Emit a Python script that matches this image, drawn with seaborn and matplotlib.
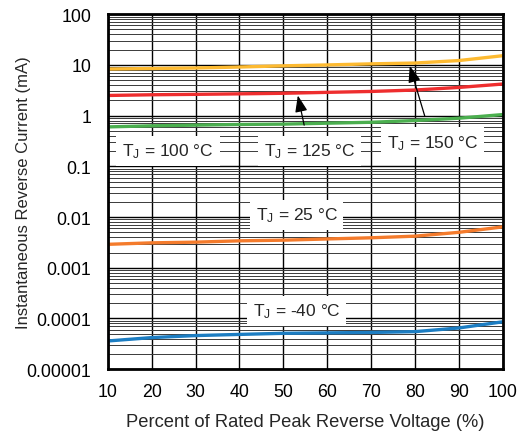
import numpy as np
import pandas as pd
import matplotlib
matplotlib.use("Agg")
import matplotlib.pyplot as plt
import seaborn as sns
from matplotlib.ticker import LogLocator, FixedLocator, FixedFormatter

# ---- data ----
voltage_pct = [10, 20, 30, 40, 50, 60, 70, 80, 90, 100]
i_150 = [8.3, 8.5, 8.7, 9.1, 9.6, 10.0, 10.5, 10.9, 12.2, 15.2]
i_125 = [2.5, 2.58, 2.63, 2.69, 2.76, 2.88, 3.0, 3.2, 3.6, 4.2]
i_100 = [0.60, 0.63, 0.65, 0.67, 0.68, 0.71, 0.74, 0.80, 0.89, 1.05]
i_25 = [0.0029, 0.0031, 0.0032, 0.0034, 0.0035, 0.0037, 0.0039, 0.0042, 0.0050, 0.0064]
i_m40 = [3.6e-5, 4.2e-5, 4.6e-5, 4.85e-5, 5.1e-5, 5.2e-5, 5.3e-5, 5.5e-5, 6.5e-5, 8.6e-5]
series_names = ["150", "125", "100", "25", "-40"]
y_ticks = [1e-5, 1e-4, 1e-3, 1e-2, 1e-1, 1, 10, 100]
y_tick_labels = ["0.00001", "0.0001", "0.001", "0.01", "0.1", "1", "10", "100"]
x_ticks = [10, 20, 30, 40, 50, 60, 70, 80, 90, 100]

colors = {"150": "#FDBA31", "125": "#EE2D2E", "100": "#4BAF4F",
          "25": "#F47B2C", "-40": "#1C7DC2"}

frames = []
for name, vals in zip(series_names, [i_150, i_125, i_100, i_25, i_m40]):
    frames.append(pd.DataFrame({"V": voltage_pct, "I": vals, "T": name}))
df = pd.concat(frames, ignore_index=True)

sns.set_style("white")
plt.rcParams["font.family"] = ["Liberation Sans", "DejaVu Sans"]
plt.rcParams["mathtext.fontset"] = "custom"
plt.rcParams["mathtext.rm"] = "Liberation Sans"
plt.rcParams["mathtext.it"] = "Liberation Sans"

fig = plt.figure(figsize=(5.21, 4.35), dpi=100)
ax = fig.add_axes([0.207, 0.149, 0.758, 0.816])

ax.set_yscale("log")
ax.set_xlim(10, 100)
ax.set_ylim(1e-5, 100)

# grid
ax.yaxis.set_major_locator(FixedLocator(y_ticks))
ax.yaxis.set_major_formatter(FixedFormatter(y_tick_labels))
ax.yaxis.set_minor_locator(LogLocator(base=10, subs=np.arange(2, 10), numticks=50))
ax.xaxis.set_major_locator(FixedLocator(x_ticks))
ax.grid(True, which="major", axis="both", color="black", linewidth=1.0)
ax.grid(True, which="minor", axis="y", color="#3a3a3a", linewidth=0.7)
ax.set_axisbelow(True)

sns.lineplot(data=df, x="V", y="I", hue="T", palette=colors, linewidth=2.4,
             legend=False, ax=ax, zorder=3)

for s in ax.spines.values():
    s.set_color("black")
    s.set_linewidth(2.0)
    s.set_zorder(5)

ax.tick_params(axis="both", which="both", length=0, labelsize=12.8, colors="black")
ax.tick_params(axis="y", pad=12)
ax.tick_params(axis="x", pad=10)
ax.yaxis.set_tick_params(which="minor", labelleft=False)

ax.set_xlabel("Percent of Rated Peak Reverse Voltage (%)", fontsize=13.2, labelpad=9)
ax.set_ylabel("Instantaneous Reverse Current (mA)", fontsize=12)
ax.yaxis.set_label_coords(-0.195, 0.5)

box = dict(boxstyle="square,pad=0.33", facecolor="white", edgecolor="none")
tkw = dict(fontsize=12.5, ha="center", va="center", bbox=box, zorder=6)
ax.text(23.7, 0.2, "T$_\\mathregular{J}$ = 100 °C", **tkw)
ax.text(53, 0.011, "T$_\\mathregular{J}$ = 25 °C", **tkw)
ax.text(53, 1.4e-4, "T$_\\mathregular{J}$ = -40 °C", **tkw)

akw = dict(arrowstyle="-|>,head_length=0.8,head_width=0.3", color="black", lw=0.9)
ax.annotate("T$_\\mathregular{J}$ = 125 °C", xy=(53.3, 2.5), xytext=(56, 0.2),
            arrowprops=dict(**akw, shrinkA=8, shrinkB=0), **tkw)
ax.annotate("T$_\\mathregular{J}$ = 150 °C", xy=(78.8, 9.6), xytext=(84, 0.3),
            arrowprops=dict(**akw, shrinkA=8, shrinkB=0), **tkw)

fig.savefig("out.png", dpi=100)
